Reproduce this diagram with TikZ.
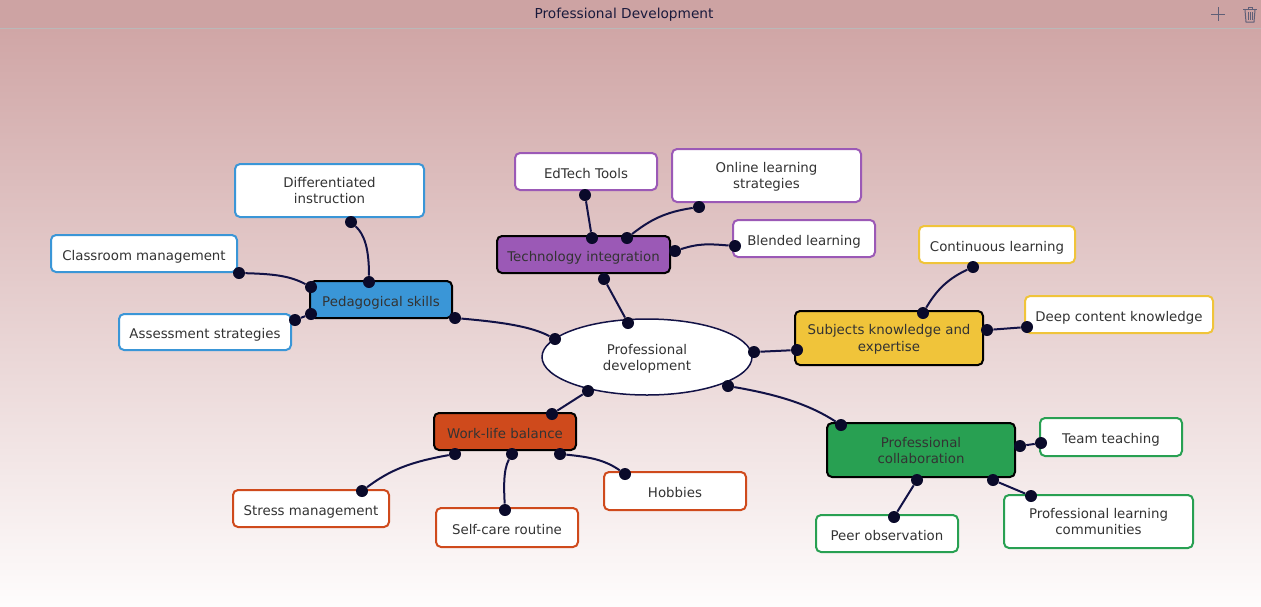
\documentclass[tikz,border=0pt]{standalone}
\usepackage{fontspec}
\setmainfont{DejaVu Sans}
\usetikzlibrary{shapes.geometric}
\definecolor{barc}{RGB}{205,163,163}
\definecolor{bgtop}{RGB}{208,166,166}
\definecolor{bgbot}{RGB}{254,252,252}
\definecolor{txt}{RGB}{51,51,51}
\definecolor{titlec}{RGB}{26,26,60}
\definecolor{purp}{RGB}{155,89,182}
\definecolor{bluec}{RGB}{58,150,215}
\definecolor{yelc}{RGB}{240,196,58}
\definecolor{grnc}{RGB}{40,160,82}
\definecolor{orgc}{RGB}{207,74,28}
\definecolor{dotc}{RGB}{10,10,42}
\definecolor{linec}{RGB}{18,18,70}
\tikzset{
  sz/.style 2 args={minimum width=#1*0.02cm, minimum height=#2*0.02cm},
  nfont/.style={font=\fontsize{7.6}{9.2}\selectfont},
  one/.style={text height=0.9em, text depth=0.16em},
  two/.style={text depth=-0.15em},
  leaf/.style={draw=#1, fill=white, line width=0.04cm, rounded corners=0.1cm,
    text=txt, align=center, inner sep=0pt, nfont},
  mainbox/.style={draw=black, fill=#1, line width=0.04cm, rounded corners=0.1cm,
    text=txt, align=center, inner sep=0pt, nfont},
  dot/.style={circle, fill=dotc, inner sep=0pt, minimum size=0.24cm},
  conn/.style={draw=linec, line width=0.04cm},
}
\begin{document}
\begin{tikzpicture}[x=0.02cm, y=-0.02cm]
\useasboundingbox (0,0) rectangle (1261,606);
% background
\shade[top color=bgtop, bottom color=bgbot] (0,28) rectangle (1261,606);
\fill[barc] (0,0) rectangle (1261,28);
\draw[gray!55, line width=0.03cm] (0,28.5) -- (1261,28.5);
\node[text=titlec, font=\fontsize{7.8}{9}\selectfont] (title) at (624,14.5) {Professional Development};
% plus icon
\draw[titlec!70, line width=0.02cm] (1211,14) -- (1225,14) (1218,7) -- (1218,21);
% trash icon
\begin{scope}[titlec!70, line width=0.02cm]
  \draw (1243,9) -- (1257,9);
  \draw (1248,9) -- (1248,7) -- (1252,7) -- (1252,9);
  \draw (1245,10) -- (1246,22) -- (1254,22) -- (1255,10);
  \draw (1248,12) -- (1248,20) (1250,12) -- (1250,20) (1252,12) -- (1252,20);
\end{scope}

% center
\node[ellipse, draw=linec, line width=0.03cm, fill=white, sz={210}{76}, inner sep=0pt,
  text=txt, align=center, nfont, two] (center) at (647,357)
  {Professional\\development};

% main boxes
\node[mainbox=purp, sz={173}{37}, one] (tech) at (583.5,254.5) {Technology integration};
\node[mainbox=bluec, sz={142}{37}, one] (ped) at (381,299.5) {Pedagogical skills};
\node[mainbox=yelc, sz={188}{54}, two] (subj) at (889,338) {Subjects knowledge and\\expertise};
\node[mainbox=grnc, sz={188}{54}, two] (collab) at (921,450) {Professional\\collaboration};
\node[mainbox=orgc, sz={142}{37}, one] (work) at (505,431.5) {Work-life balance};

% leaves
\node[leaf=purp, sz={142}{37}, one] (edtech) at (586,171.5) {EdTech Tools};
\node[leaf=purp, sz={189}{53}, two] (online) at (766.5,175.5) {Online learning\\strategies};
\node[leaf=purp, sz={142}{37}, one] (blended) at (804,238.5) {Blended learning};
\node[leaf=bluec, sz={189}{53}, two] (diff) at (329.5,190.5) {Differentiated\\instruction};
\node[leaf=bluec, sz={186}{37}, one] (class) at (144,253.5) {Classroom management};
\node[leaf=bluec, sz={172}{36}, one] (assess) at (205,332) {Assessment strategies};
\node[leaf=yelc, sz={156}{37}, one] (cont) at (997,244.5) {Continuous learning};
\node[leaf=yelc, sz={188}{37}, one] (deep) at (1119,314.5) {Deep content knowledge};
\node[leaf=grnc, sz={142}{38}, one] (team) at (1111,437) {Team teaching};
\node[leaf=grnc, sz={142}{37}, one] (peer) at (887,533.5) {Peer observation};
\node[leaf=grnc, sz={189}{53}, two] (plc) at (1098.5,521.5) {Professional learning\\communities};
\node[leaf=orgc, sz={156}{37}, one] (stress) at (311,508.5) {Stress management};
\node[leaf=orgc, sz={142}{39}, one] (self) at (507,527.5) {Self-care routine};
\node[leaf=orgc, sz={142}{38}, one] (hob) at (675,491) {Hobbies};

% dots
\node[dot] (cT) at (628,323) {};  \node[dot] (tC) at (604,279) {};
\node[dot] (cP) at (555,339) {};  \node[dot] (pC) at (455,318) {};
\node[dot] (cS) at (754,352) {};  \node[dot] (sC) at (797,350) {};
\node[dot] (cL) at (728,386) {};  \node[dot] (lC) at (841,425) {};
\node[dot] (cW) at (588,391) {};  \node[dot] (wC) at (552,414) {};
\node[dot] (tE) at (592,238) {};  \node[dot] (eT) at (585,195) {};
\node[dot] (tO) at (627,238) {};  \node[dot] (oT) at (699,207) {};
\node[dot] (tB) at (675,251) {};  \node[dot] (bT) at (735,246) {};
\node[dot] (pD) at (369,282) {};  \node[dot] (dP) at (351,222) {};
\node[dot] (pK) at (311,287) {};  \node[dot] (kP) at (239,273) {};
\node[dot] (pA) at (311,314) {};  \node[dot] (aP) at (295,320) {};
\node[dot] (sN) at (923,313) {};  \node[dot] (nS) at (973,267) {};
\node[dot] (sD) at (987,330) {};  \node[dot] (dS) at (1027,327) {};
\node[dot] (lT) at (1020,446) {}; \node[dot] (tL) at (1041,443) {};
\node[dot] (lP) at (917,480) {};  \node[dot] (pL) at (894,517) {};
\node[dot] (lQ) at (993,480) {};  \node[dot] (qL) at (1031,496) {};
\node[dot] (wS) at (455,454) {};  \node[dot] (sW) at (362,491) {};
\node[dot] (wF) at (512,454) {};  \node[dot] (fW) at (505,510) {};
\node[dot] (wH) at (560,454) {};  \node[dot] (hW) at (625,474) {};

% connectors
\draw[conn] (cT) -- (tC);
\draw[conn] (pC) .. controls (500,322) and (530,326) .. (cP);
\draw[conn] (cS) -- (sC);
\draw[conn] (cL) .. controls (780,395) and (810,405) .. (lC);
\draw[conn] (cW) -- (wC);
\draw[conn] (tE) -- (eT);
\draw[conn] (tO) .. controls (650,220) and (665,212) .. (oT);
\draw[conn] (tB) .. controls (700,243) and (710,244) .. (bT);
\draw[conn] (pD) .. controls (369,250) and (365,235) .. (dP);
\draw[conn] (pK) .. controls (290,276) and (275,274) .. (kP);
\draw[conn] (pA) -- (aP);
\draw[conn] (sN) .. controls (935,293) and (945,280) .. (nS);
\draw[conn] (sD) -- (dS);
\draw[conn] (lT) -- (tL);
\draw[conn] (lP) -- (pL);
\draw[conn] (lQ) -- (qL);
\draw[conn] (wS) .. controls (410,462) and (390,470) .. (sW);
\draw[conn] (wF) .. controls (503,470) and (504,490) .. (fW);
\draw[conn] (wH) .. controls (590,457) and (605,460) .. (hW);
\end{tikzpicture}
\end{document}
